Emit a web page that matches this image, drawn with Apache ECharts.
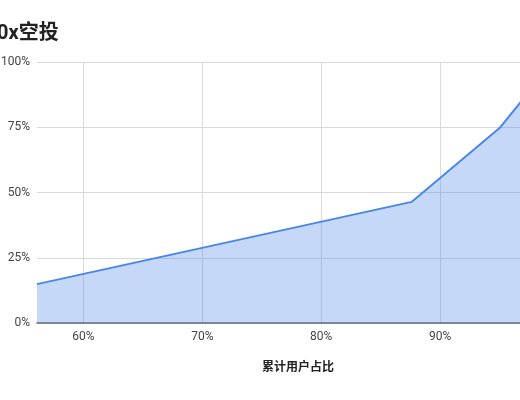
<!DOCTYPE html>
<html>
<head>
    <meta charset="UTF-8">
    <title>0x空投</title>
    <script src="https://cdn.jsdelivr.net/npm/echarts@6/dist/echarts.min.js"></script>
    <style>
        html, body { margin: 0; padding: 0; overflow: hidden; background: #fff; }
        /* the picture is a crop of a wider chart, so the chart box sticks out on both sides */
        #main { position: absolute; left: -20px; top: 0; width: 600px; height: 400px; }
    </style>
</head>
<body>
<div id="main"></div>
<script type="text/javascript">
    // 数据
    var userShare = [56.1, 87.6, 95.0, 98.0, 100];   // 累计用户占比 (%)
    var dropShare = [14.9, 46.4, 74.7, 91.5, 100];   // 累计空投占比 (%)
    var xTicks = [60, 70, 80, 90, 100];
    var yTicks = [0, 25, 50, 75, 100];

    var chart = echarts.init(document.getElementById('main'));

    var points = userShare.map(function (x, i) { return [x, dropShare[i]]; });

    var option = {
        animation: false,
        title: {
            text: '0x空投',
            left: 12,
            top: 19,
            textStyle: { fontSize: 20, fontWeight: 'bold', color: '#222', fontFamily: 'Roboto, "Noto Sans CJK SC", sans-serif' }
        },
        grid: { left: 57, right: 21, top: 62, bottom: 77 },
        xAxis: {
            type: 'value',
            min: 56.1,
            max: 100,
            name: '累计用户占比',
            nameLocation: 'middle',
            nameGap: 37,
            nameTextStyle: { fontSize: 12, fontWeight: 'bold', color: '#222', fontFamily: '"Noto Sans CJK SC", sans-serif' },
            axisLine: { show: true, lineStyle: { color: '#666', width: 1.5 } },
            axisTick: { show: false, customValues: xTicks },
            axisLabel: {
                customValues: xTicks,
                formatter: '{value}%',
                color: '#444',
                fontSize: 12,
                margin: 8,
                fontFamily: 'Roboto, Arial, sans-serif'
            },
            splitLine: { show: true, lineStyle: { color: '#d9d9d9', width: 1 } }
        },
        yAxis: {
            type: 'value',
            min: yTicks[0],
            max: yTicks[yTicks.length - 1],
            interval: 25,
            axisLine: { show: false },
            axisTick: { show: false },
            axisLabel: {
                formatter: '{value}%',
                color: '#444',
                fontSize: 12,
                margin: 7,
                fontFamily: 'Roboto, Arial, sans-serif'
            },
            splitLine: { show: true, lineStyle: { color: '#d9d9d9', width: 1 } }
        },
        series: [
            {
                name: '累计空投占比',
                type: 'line',
                data: points,
                symbol: 'none',
                clip: true,
                lineStyle: { color: '#4a86e8', width: 2 },
                areaStyle: { color: '#4a86e8', opacity: 0.32 }
            }
        ]
    };

    chart.setOption(option);
</script>
</body>
</html>
